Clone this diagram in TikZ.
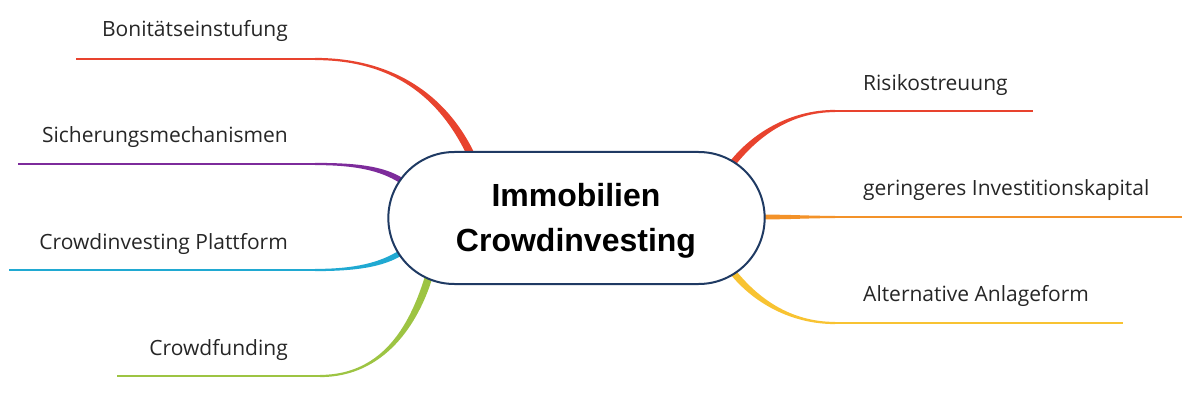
\documentclass[tikz,border=0pt]{standalone}
\usepackage{fontspec}
\setmainfont{Liberation Sans}
\newfontfamily\labelfont{Open Sans}
\usetikzlibrary{calc,shapes.misc}
\definecolor{cred}{HTML}{E8432E}
\definecolor{cpurple}{HTML}{7D2B9B}
\definecolor{ccyan}{HTML}{20A9D2}
\definecolor{cgreen}{HTML}{9DC443}
\definecolor{corange}{HTML}{F39229}
\definecolor{cyellow}{HTML}{F8C332}
\definecolor{cnavy}{HTML}{1F3A63}
% tapered branch: colour, B (thin end), c1, c2, A (thick end), half width
\newcommand\tbranch[6]{\fill[#1] ($(#2)!1.1pt!90:(#3)$) .. controls ($(#3)!1.1pt!-90:(#2)$) and ($(#4)!#6!90:(#5)$) .. ($(#5)!#6!-90:(#4)$) -- ($(#5)!#6!90:(#4)$) .. controls ($(#4)!#6!-90:(#5)$) and ($(#3)!1.1pt!90:(#2)$) .. ($(#2)!1.1pt!-90:(#3)$) -- cycle;}
\tikzset{
  lab/.style={inner sep=0pt, font=\labelfont\fontsize{21}{24}\selectfont, text=black!85},
  thin/.style={line width=2.2pt},
  hub/.style={rounded rectangle, draw=cnavy, line width=2pt, fill=white,
    minimum width=383pt, minimum height=132pt},
  hubtext/.style={align=center, inner sep=0pt,
    font=\bfseries\fontsize{32}{45}\selectfont}
}
\begin{document}
\begin{tikzpicture}[x=1pt,y=-1pt]
\useasboundingbox (0,0) rectangle (1200,401);
% coordinates of branches
\coordinate (b1B) at (315,59);  \coordinate (b1c1) at (400,59);  \coordinate (b1c2) at (447,103); \coordinate (b1A) at (472,157);
\coordinate (b2B) at (315,164); \coordinate (b2c1) at (355,164); \coordinate (b2c2) at (382,168); \coordinate (b2A) at (402,181);
\coordinate (b3B) at (315,270); \coordinate (b3c1) at (355,270); \coordinate (b3c2) at (382,265); \coordinate (b3A) at (402,252);
\coordinate (b4B) at (320,376); \coordinate (b4c1) at (385,376); \coordinate (b4c2) at (415,322); \coordinate (b4A) at (429,276);
\coordinate (b5B) at (835,111); \coordinate (b5c1) at (790,111); \coordinate (b5c2) at (755,135); \coordinate (b5A) at (732,164);
\coordinate (b6B) at (835,217); \coordinate (b6c1) at (810,217); \coordinate (b6c2) at (790,217); \coordinate (b6A) at (764,217);
\coordinate (b7B) at (835,323); \coordinate (b7c1) at (790,323); \coordinate (b7c2) at (755,300); \coordinate (b7A) at (732,271);
% free ends
\coordinate (e1) at (76,59);
\coordinate (e2) at (18,164);
\coordinate (e3) at (9,270);
\coordinate (e4) at (117,376);
\coordinate (e5) at (1033,111);
\coordinate (e6) at (1182,217);
\coordinate (e7) at (1123,323);
% branches
\tbranch{cred}{b1B}{b1c1}{b1c2}{b1A}{3.8pt}
\draw[cred,thin] (e1) -- (b1B);
\tbranch{cpurple}{b2B}{b2c1}{b2c2}{b2A}{2.8pt}
\draw[cpurple,thin] (e2) -- (b2B);
\tbranch{ccyan}{b3B}{b3c1}{b3c2}{b3A}{2.8pt}
\draw[ccyan,thin] (e3) -- (b3B);
\tbranch{cgreen}{b4B}{b4c1}{b4c2}{b4A}{3.8pt}
\draw[cgreen,thin] (e4) -- (b4B);
\tbranch{cred}{b5B}{b5c1}{b5c2}{b5A}{3.3pt}
\draw[cred,thin] (b5B) -- (e5);
\tbranch{corange}{b6B}{b6c1}{b6c2}{b6A}{2.4pt}
\draw[corange,thin] (b6B) -- (e6);
\tbranch{cyellow}{b7B}{b7c1}{b7c2}{b7A}{3.3pt}
\draw[cyellow,thin] (b7B) -- (e7);
% central node
\node[hub] (c) at (576.5,218) {};
\node[hubtext] (ct) at (576,221) {Immobilien\\Crowdinvesting};
% labels
\node[lab, anchor=base east] (l1) at (288,37) {Bonitätseinstufung};
\node[lab, anchor=base east] (l2) at (288,143) {Sicherungsmechanismen};
\node[lab, anchor=base east] (l3) at (288,249) {Crowdinvesting Plattform};
\node[lab, anchor=base east] (l4) at (288,355) {Crowdfunding};
\node[lab, anchor=base west] (l5) at (863,91) {Risikostreuung};
\node[lab, anchor=base west] (l6) at (863,196) {geringeres Investitionskapital};
\node[lab, anchor=base west] (l7) at (863,301) {Alternative Anlageform};
\end{tikzpicture}
\end{document}
